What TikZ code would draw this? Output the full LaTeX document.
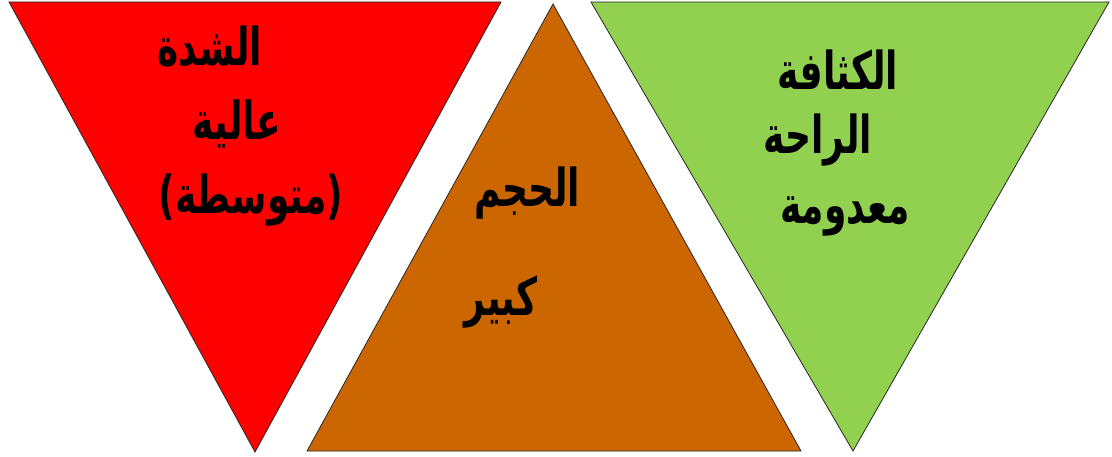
\documentclass[tikz,border=0pt]{standalone}
\usepackage{fontspec}
\usepackage{tikz}
\TeXXeTstate=1
\newfontfamily\arabicfont[Script=Arabic]{DejaVu Sans}
\definecolor{tred}{RGB}{255,0,0}
\definecolor{tbrown}{RGB}{204,102,0}
\definecolor{tgreen}{RGB}{146,208,80}
\definecolor{tedge}{RGB}{40,40,40}
\tikzset{
  tri/.style={draw=tedge, line width=0.8pt, line join=miter},
  arlbl/.style={font=\fontsize{36}{40}\selectfont\arabicfont\bfseries,
    text=black, inner sep=0pt}
}
\newcommand{\ar}[1]{\scalebox{1}[1.45]{\beginR #1\endR}}

\begin{document}
\begin{tikzpicture}[x=1pt, y=-1pt]
  \useasboundingbox (0,0) rectangle (1112,457);

  % Left triangle (pointing down)
  \filldraw[tri, fill=tred] (9,2) -- (501,2) -- (255,452) -- cycle;
  \node[arlbl] (shidda) at (210,46) {\ar{الشدة}};
  \node[arlbl] (aliya) at (237,124) {\ar{عالية}};
  \node[arlbl] (mutawassita) at (251,200) {\ar{(متوسطة)}};

  % Middle triangle (pointing up)
  \filldraw[tri, fill=tbrown] (553,4) -- (801,451) -- (307,451) -- cycle;
  \node[arlbl] (hajm) at (527,193) {\ar{الحجم}};
  \node[arlbl] (kabir) at (501,302) {\ar{كبير}};

  % Right triangle (pointing down)
  \filldraw[tri, fill=tgreen] (591,2) -- (1109,2) -- (853,451) -- cycle;
  \node[arlbl] (kathafa) at (838,70) {\ar{الكثافة}};
  \node[arlbl] (raha) at (818,140) {\ar{الراحة}};
  \node[arlbl] (madouma) at (845,216) {\ar{معدومة}};
\end{tikzpicture}
\end{document}
